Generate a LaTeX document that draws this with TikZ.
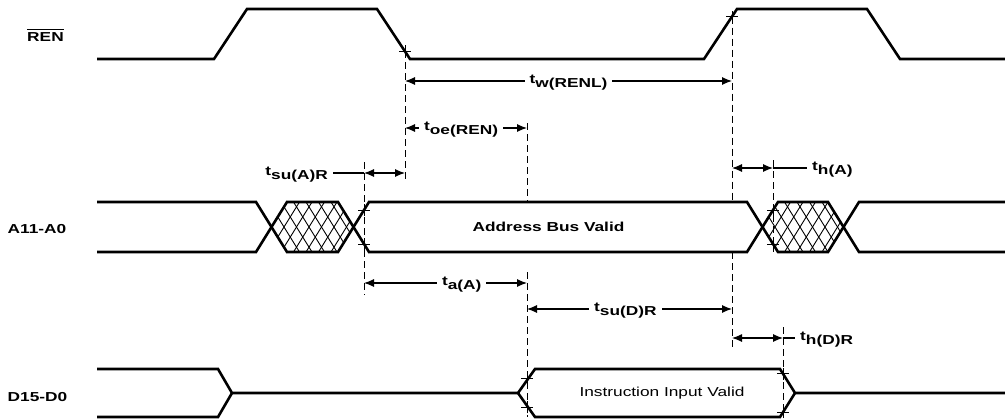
\documentclass[tikz,border=0pt]{standalone}
\usepackage{fontspec}
\setmainfont{Liberation Sans}[FakeStretch=1.33]
\usetikzlibrary{arrows.meta}
\tikzstyle{signal} = [draw, line width=2.6pt]
\tikzstyle{hatch} = [draw, line width=0.9pt]
\tikzstyle{guide} = [draw, line width=0.9pt, dash pattern=on 7pt off 4pt]
\tikzstyle{dim} = [draw, line width=1.1pt, {Latex[length=10pt,width=8pt]}-{Latex[length=10pt,width=8pt]}]
\tikzstyle{leader} = [draw, line width=1.1pt]
\tikzstyle{tlabel} = [font=\fontsize{13}{15}\selectfont\bfseries, fill=white, inner xsep=5pt, inner ysep=1pt, yshift=-2pt]
\tikzstyle{signame} = [font=\fontsize{13}{15}\selectfont\bfseries, anchor=base, inner sep=0pt]
\tikzstyle{buslabel} = [font=\fontsize{13}{15}\selectfont]
\tikzstyle{tick} = [draw, line width=0.9pt]
\newcommand{\tsub}[1]{t\raisebox{-4pt}{#1}}
\newcommand{\ovl}[1]{\vbox{\hrule height 1.3pt \kern 3pt \hbox{#1}}}
\newcommand{\crossmark}[1]{\path[tick] ([xshift=-6pt]#1) -- ([xshift=6pt]#1) ([yshift=-6pt]#1) -- ([yshift=6pt]#1);}

\begin{document}
\begin{tikzpicture}[x=1pt, y=-1pt]
        \useasboundingbox (0,0) rectangle (1005,420);
        % signal names
        \node[signame] (ren) at (45.5,42) {\ovl{REN}};
        \node[signame] (addr) at (37,233) {A11-A0};
        \node[signame] (data) at (37.5,401) {D15-D0};
        % waveforms
        \draw[signal] (97,59) -- (214,59) -- (247,9) -- (377,9) -- (410,59) -- (704,59) -- (737,9) -- (867,9) -- (900,59) -- (1005,59);
        \draw[signal] (97,202) -- (256,202) -- (287,252) -- (338,252) -- (369,202) -- (747,202) -- (778,252) -- (828,252) -- (859,202) -- (1005,202);
        \draw[signal] (97,252) -- (256,252) -- (287,202) -- (338,202) -- (369,252) -- (747,252) -- (778,202) -- (828,202) -- (859,252) -- (1005,252);
        \draw[signal] (97,369) -- (218,369) -- (232,393) -- (518,393) -- (535,369) -- (780,369) -- (795,393) -- (1005,393);
        \draw[signal] (97,417) -- (218,417) -- (232,393);
        \draw[signal] (518,393) -- (535,417) -- (780,417) -- (795,393);
        \foreach \x in {256,747} {
            \begin{scope}
                \clip (\x+15.5,227) -- (\x+31,202) -- (\x+82,202) -- (\x+97.5,227) -- (\x+82,252) -- (\x+31,252) -- cycle;
                \foreach \k in {1,...,7} {
                    \draw[hatch] (\x+\k*12.5,252) -- ++(31,-50);
                    \draw[hatch] (\x+\k*12.5,202) -- ++(31,50);
                }
            \end{scope}
        }
        \node[buslabel, font=\fontsize{13}{15}\selectfont\bfseries] (abv) at (548.5,227) {Address Bus Valid};
        \node[buslabel] (iiv) at (662,393) {Instruction Input Valid};
        % crossing points
        \coordinate (r1) at (405,51.4);
        \coordinate (r2) at (732,16.6);
        \coordinate (a1) at (364,210);
        \coordinate (a2) at (364,244);
        \coordinate (a3) at (773,210);
        \coordinate (a4) at (773,244);
        \coordinate (d1) at (527,378.6);
        \coordinate (d2) at (527,407.4);
        \coordinate (d3) at (783,373.8);
        \coordinate (d4) at (783,412.2);
        \foreach \c in {r1,r2,a1,a2,a3,a4,d1,d2,d3,d4} {\crossmark{\c}}
        % guide lines
        \coordinate (g1) at (405,183);
        \coordinate (g2a) at (732,202);
        \coordinate (g2b) at (732,252);
        \coordinate (g2c) at (732,347);
        \coordinate (g3a) at (527,123);
        \coordinate (g3b) at (527,202);
        \coordinate (g3c) at (527,272);
        \coordinate (g3d) at (527,417);
        \coordinate (g4a) at (364,162);
        \coordinate (g4b) at (364,295);
        \coordinate (g5a) at (773,160);
        \coordinate (g5b) at (773,252);
        \coordinate (g6a) at (783,327);
        \coordinate (g6b) at (783,417);
        \path[guide] (r1) -- (g1);
        \path[guide] (r2) -- (g2a);
        \path[guide] (g2b) -- (g2c);
        \path[guide] (g3a) -- (g3b);
        \path[guide] (g3c) -- (g3d);
        \path[guide] (g4a) -- (g4b);
        \path[guide] (g5a) -- (g5b);
        \path[guide] (g6a) -- (g6b);
        % timing arrows
        \coordinate (tw-l) at (405,81);
        \coordinate (tw-r) at (732,81);
        \coordinate (toe-l) at (405,128);
        \coordinate (toe-r) at (527,128);
        \coordinate (tsua-l) at (364,173);
        \coordinate (tsua-r) at (405,173);
        \coordinate (tha-l) at (732,168);
        \coordinate (tha-r) at (773,168);
        \coordinate (ta-l) at (364,283);
        \coordinate (ta-r) at (527,283);
        \coordinate (tsud-l) at (527,309);
        \coordinate (tsud-r) at (732,309);
        \coordinate (thd-l) at (732,338);
        \coordinate (thd-r) at (783,338);
        \path[dim] (tw-l) -- node[tlabel] (tw) {\tsub{w(RENL)}} (tw-r);
        \path[dim] (toe-l) -- node[tlabel, pos=0.46] (toe) {\tsub{oe(REN)}} (toe-r);
        \path[dim] (tsua-l) -- (tsua-r);
        \node[tlabel, anchor=east] (tsua) at (333,173) {\tsub{su(A)R}};
        \path[leader] (tsua.east |- tsua-l) -- (tsua-l);
        \path[dim] (tha-l) -- (tha-r);
        \node[tlabel, anchor=west] (tha) at (807,168) {\tsub{h(A)}};
        \path[leader] (tha-r) -- (tha.west |- tha-r);
        \path[dim] (ta-l) -- node[tlabel, pos=0.6] (ta) {\tsub{a(A)}} (ta-r);
        \path[dim] (tsud-l) -- node[tlabel, pos=0.48] (tsud) {\tsub{su(D)R}} (tsud-r);
        \path[dim] (thd-l) -- (thd-r);
        \node[tlabel, anchor=west] (thd) at (795,338) {\tsub{h(D)R}};
        \path[leader] (thd-r) -- (thd.west |- thd-r);
    \end{tikzpicture}
\end{document}
